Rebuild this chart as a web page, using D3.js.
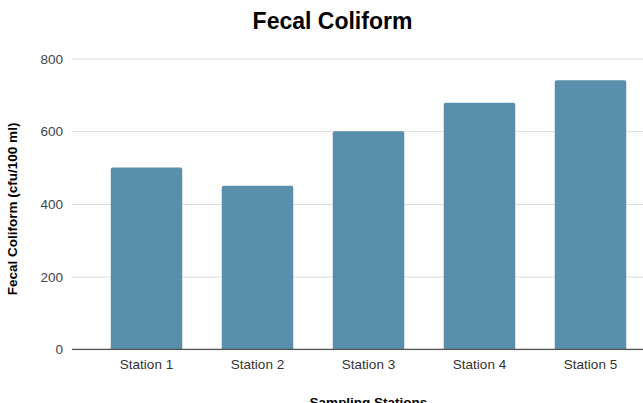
<!DOCTYPE html>
<html>
<head>
<meta charset="utf-8">
<script src="https://cdn.jsdelivr.net/npm/d3@7"></script>
<style>
  html, body { margin: 0; padding: 0; background: #fff; }
  svg { display: block; font-family: "Liberation Sans", Arial, sans-serif; }
</style>
</head>
<body>
<svg id="chart" width="643" height="403"></svg>
<script>
// Fecal coliform counts per sampling station
const stations = ["Station 1", "Station 2", "Station 3", "Station 4", "Station 5"];
const coliform = [500, 450, 600, 678, 740];
const yTicks = [0, 200, 400, 600, 800];

const svg = d3.select("#chart");
const W = 643, H = 403;
const gridLeft = 72, gridRight = 643;
const plotTop = 58.5, plotBottom = 349.3;

const x = d3.scaleBand()
  .domain(stations)
  .range([91, 646])
  .paddingInner(0.356)
  .paddingOuter(0.178);

const y = d3.scaleLinear()
  .domain([0, 800])
  .range([plotBottom, plotTop]);

// horizontal gridlines and value labels
const yAxis = d3.axisLeft(y)
  .tickValues(yTicks)
  .tickSize(-(gridRight - gridLeft))
  .tickPadding(9)
  .tickFormat(d3.format("d"));

const gy = svg.append("g")
  .attr("transform", `translate(${gridLeft},0)`)
  .call(yAxis);
gy.select(".domain").remove();
gy.selectAll(".tick line").attr("stroke", "#dcdcdc").attr("stroke-width", 1);
gy.selectAll(".tick text")
  .attr("fill", "#444")
  .attr("font-size", 13.5)
  .attr("dy", "0.34em");

// bars with slightly rounded tops
const barColor = "#5a8fab";
const r = 2;
svg.append("g")
  .selectAll("path")
  .data(stations.map((s, i) => ({ s, v: coliform[i] })))
  .join("path")
  .attr("fill", barColor)
  .attr("d", d => {
    const x0 = x(d.s), x1 = x0 + x.bandwidth();
    const yt = y(d.v), yb = y(0);
    return `M${x0},${yb}V${yt + r}Q${x0},${yt} ${x0 + r},${yt}H${x1 - r}Q${x1},${yt} ${x1},${yt + r}V${yb}Z`;
  });

// baseline
svg.append("line")
  .attr("x1", gridLeft).attr("x2", gridRight)
  .attr("y1", y(0)).attr("y2", y(0))
  .attr("stroke", "#555").attr("stroke-width", 1.3);

// category labels
const xAxis = d3.axisBottom(x).tickSize(0).tickPadding(10);
const gx = svg.append("g")
  .attr("transform", `translate(0,${y(0)})`)
  .call(xAxis);
gx.select(".domain").remove();
gx.selectAll(".tick text")
  .attr("fill", "#333")
  .attr("font-size", 13.5);

// title
svg.append("text")
  .attr("x", 332.5).attr("y", 29)
  .attr("text-anchor", "middle")
  .attr("font-size", 23)
  .attr("font-weight", "bold")
  .attr("fill", "#000")
  .text("Fecal Coliform");

// axis titles
svg.append("text")
  .attr("transform", `translate(17,${(plotTop + plotBottom) / 2 + 5}) rotate(-90)`)
  .attr("text-anchor", "middle")
  .attr("font-size", 13.5)
  .attr("font-weight", "bold")
  .attr("fill", "#000")
  .text("Fecal Coliform (cfu/100 ml)");

svg.append("text")
  .attr("x", (x.range()[0] + x.range()[1]) / 2)
  .attr("y", 407)
  .attr("text-anchor", "middle")
  .attr("font-size", 13.5)
  .attr("font-weight", "bold")
  .attr("fill", "#000")
  .text("Sampling Stations");
</script>
</body>
</html>
